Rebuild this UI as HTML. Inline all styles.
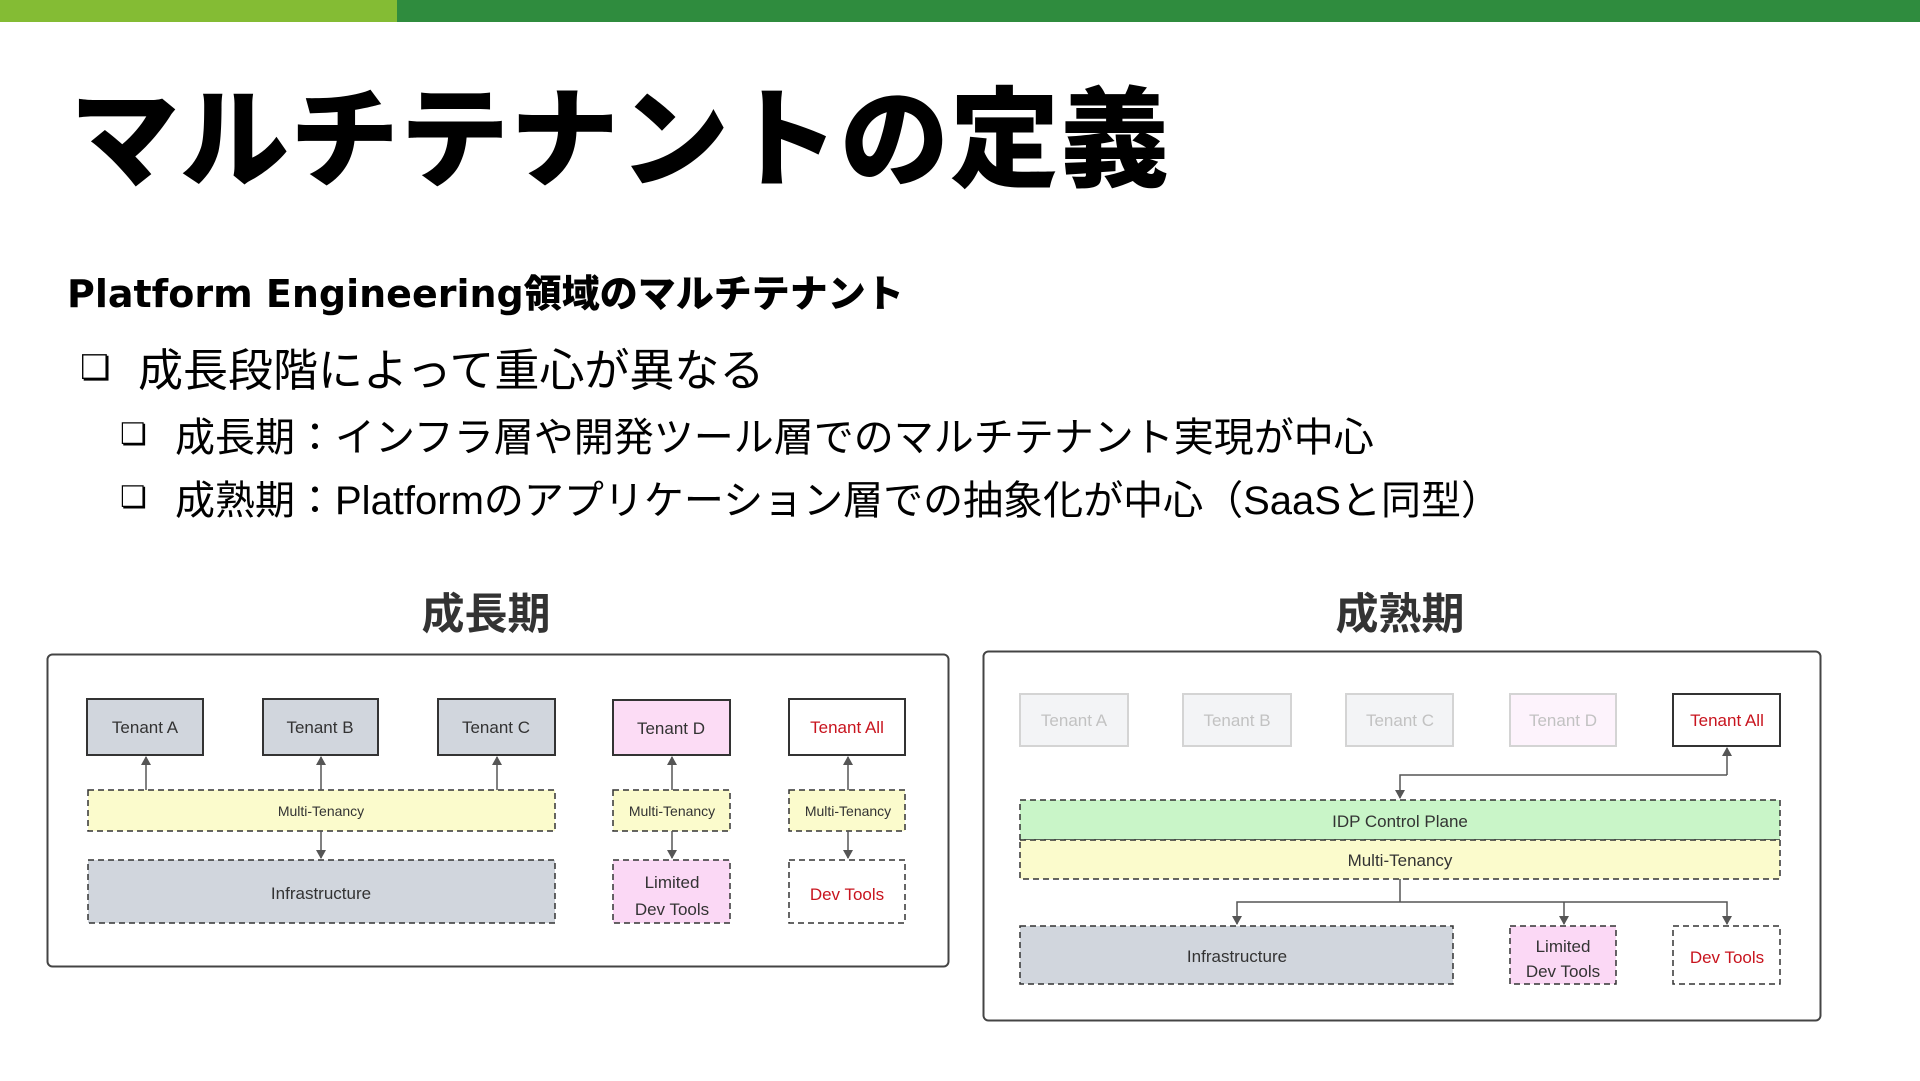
<!DOCTYPE html>
<html><head><meta charset="utf-8"><style>
body{margin:0;width:1920px;height:1081px;background:#fff;position:relative;overflow:hidden;font-family:"Liberation Sans","Noto Sans CJK JP",sans-serif;}
.t{position:absolute;white-space:nowrap;line-height:1;color:#000;}
svg text{font-family:"Liberation Sans","Noto Sans CJK JP",sans-serif;}
</style></head><body>
<div style="position:absolute;left:0;top:0;width:397px;height:22px;background:#84bc34"></div>
<div style="position:absolute;left:397px;top:0;width:1523px;height:22px;background:#2f8c3e"></div>
<div class="t" style="left:70px;top:87px;font-size:109px;font-weight:900;letter-spacing:1px">マルチテナントの定義</div>
<div class="t" style="left:67px;top:275px;font-size:38px;font-weight:900;font-family:'DejaVu Sans','Noto Sans CJK JP',sans-serif">Platform Engineering領域のマルチテナント</div>
<div class="t" style="left:80px;top:347px;font-size:44px"><span style="font-family:'DejaVu Sans';font-size:34px;position:relative;top:-4px;font-weight:700">❏</span></div>
<div class="t" style="left:138px;top:348px;font-size:45px">成長段階によって重心が異なる</div>
<div class="t" style="left:120px;top:420px;font-size:30px;font-family:'DejaVu Sans';font-weight:700">❏</div>
<div class="t" style="left:175px;top:418px;font-size:40px">成長期：インフラ層や開発ツール層でのマルチテナント実現が中心</div>
<div class="t" style="left:120px;top:483px;font-size:30px;font-family:'DejaVu Sans';font-weight:700">❏</div>
<div class="t" style="left:175px;top:481px;font-size:40px">成熟期：Platformのアプリケーション層での抽象化が中心（SaaSと同型）</div>
<div class="t" style="left:386px;top:594px;width:200px;text-align:center;font-size:43px;font-weight:700;color:#333">成長期</div>
<div class="t" style="left:1300px;top:594px;width:200px;text-align:center;font-size:43px;font-weight:700;color:#333">成熟期</div>
<svg width="1920" height="1081" style="position:absolute;left:0;top:0">
<defs><marker id="a" markerWidth="10" markerHeight="10" refX="8" refY="5" orient="auto" markerUnits="userSpaceOnUse"><path d="M0,0 L9,5 L0,10 z" fill="#555"/></marker></defs>
<g font-size="17" text-anchor="middle">
<rect x="47.5" y="654.5" width="901" height="312" rx="5" fill="#fff" stroke="#444" stroke-width="2"/>
<g stroke="#333" stroke-width="2" fill="#d1d6dd">
<rect x="87" y="699" width="116" height="56"/><rect x="263" y="699" width="115" height="56"/><rect x="438" y="699" width="117" height="56"/>
<rect x="613" y="700" width="117" height="55" fill="#fcdcf5"/><rect x="789" y="699" width="116" height="56" fill="#fff"/></g>
<g fill="#333"><text x="145" y="733">Tenant A</text><text x="320" y="733">Tenant B</text><text x="496" y="733">Tenant C</text><text x="671" y="734">Tenant D</text></g>
<text x="847" y="733" fill="#c8141e">Tenant All</text>
<g stroke="#333" stroke-width="1.5" stroke-dasharray="6,4">
<rect x="88" y="790" width="467" height="41" fill="#fbfbcc"/><rect x="613" y="790" width="117" height="41" fill="#fbfbcc"/><rect x="789" y="790" width="116" height="41" fill="#fbfbcc"/>
<rect x="88" y="860" width="467" height="63" fill="#d1d6dd"/><rect x="613" y="860" width="117" height="63" fill="#fbd8f5"/><rect x="789" y="860" width="116" height="63" fill="#fff"/></g>
<g font-size="14" fill="#333"><text x="321" y="816">Multi-Tenancy</text><text x="672" y="816">Multi-Tenancy</text><text x="848" y="816">Multi-Tenancy</text></g>
<text x="321" y="899" fill="#333">Infrastructure</text>
<text x="672" y="888" fill="#333">Limited</text><text x="672" y="915" fill="#333">Dev Tools</text>
<text x="847" y="900" fill="#c8141e">Dev Tools</text>
<g stroke="#555" stroke-width="1.5" fill="none" marker-end="url(#a)">
<line x1="146" y1="790" x2="146" y2="757"/><line x1="321" y1="790" x2="321" y2="757"/><line x1="497" y1="790" x2="497" y2="757"/>
<line x1="672" y1="790" x2="672" y2="757"/><line x1="848" y1="790" x2="848" y2="757"/>
<line x1="321" y1="831" x2="321" y2="858"/><line x1="672" y1="831" x2="672" y2="858"/><line x1="848" y1="831" x2="848" y2="858"/></g>

<rect x="983.5" y="651.5" width="837" height="369" rx="5" fill="#fff" stroke="#444" stroke-width="2"/>
<g stroke="#d4d4d4" stroke-width="2" fill="#f3f4f6">
<rect x="1020" y="694" width="108" height="52"/><rect x="1183" y="694" width="108" height="52"/><rect x="1346" y="694" width="107" height="52"/><rect x="1510" y="694" width="106" height="52" fill="#fdf3fc"/></g>
<rect x="1673" y="694" width="107" height="52" fill="#fff" stroke="#333" stroke-width="2"/>
<g fill="#c2c2c2"><text x="1074" y="726">Tenant A</text><text x="1237" y="726">Tenant B</text><text x="1400" y="726">Tenant C</text><text x="1563" y="726">Tenant D</text></g>
<text x="1727" y="726" fill="#c8141e">Tenant All</text>
<g stroke="#333" stroke-width="1.5" stroke-dasharray="6,4">
<rect x="1020" y="800" width="760" height="40" fill="#c9f5c8"/><rect x="1020" y="840" width="760" height="39" fill="#fbfbcc"/>
<rect x="1020" y="926" width="433" height="58" fill="#d1d6dd"/><rect x="1510" y="926" width="106" height="58" fill="#fbd8f5"/><rect x="1673" y="926" width="107" height="58" fill="#fff"/></g>
<g fill="#333"><text x="1400" y="827">IDP Control Plane</text><text x="1400" y="866">Multi-Tenancy</text><text x="1237" y="962">Infrastructure</text>
<text x="1563" y="952">Limited</text><text x="1563" y="977">Dev Tools</text></g>
<text x="1727" y="963" fill="#c8141e">Dev Tools</text>
<g stroke="#555" stroke-width="1.5" fill="none">
<polyline points="1727,775 1400,775 1400,798" marker-end="url(#a)"/>
<line x1="1727" y1="775" x2="1727" y2="748" marker-end="url(#a)"/>
<line x1="1400" y1="879" x2="1400" y2="902"/>
<polyline points="1400,902 1237,902 1237,924" marker-end="url(#a)"/>
<line x1="1564" y1="902" x2="1564" y2="924" marker-end="url(#a)"/>
<polyline points="1400,902 1727,902 1727,924" marker-end="url(#a)"/></g>
</g></svg>
</body></html>
